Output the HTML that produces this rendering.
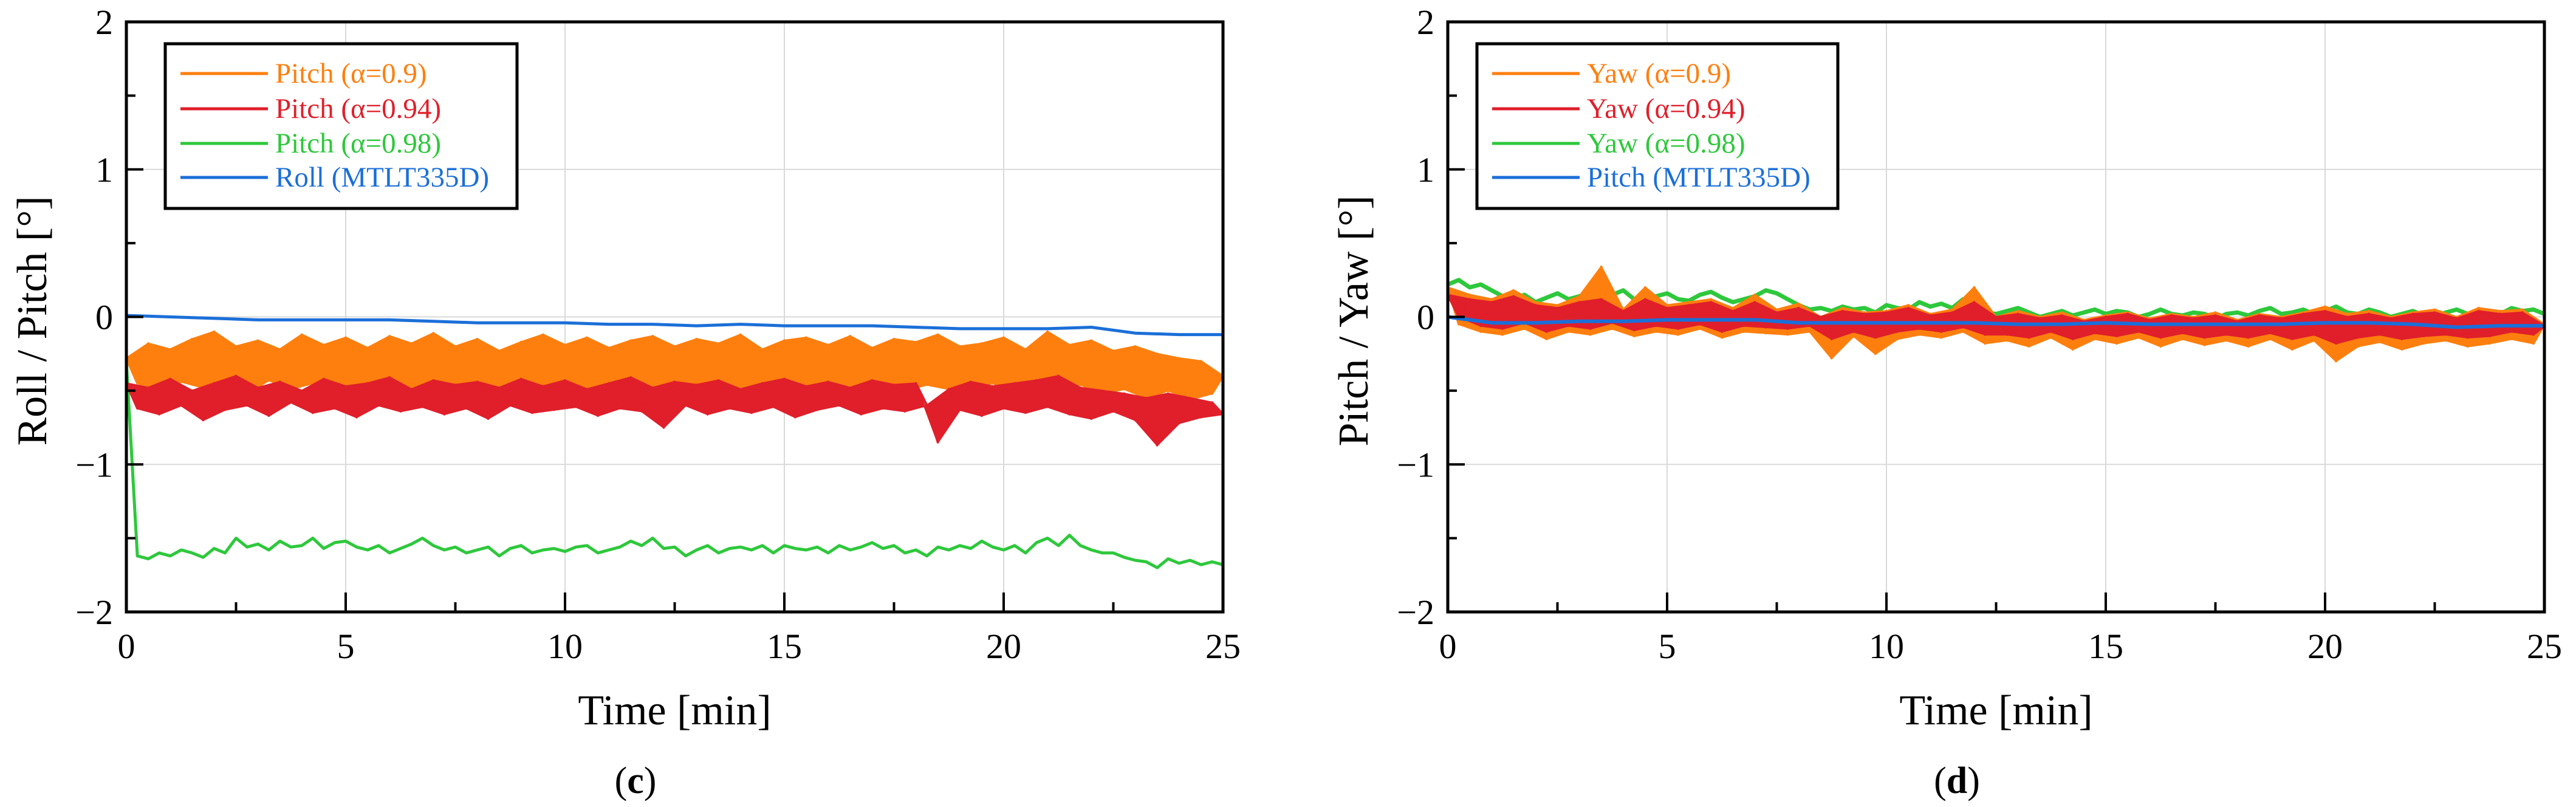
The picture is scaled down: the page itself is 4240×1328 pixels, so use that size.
<!DOCTYPE html>
<html><head><meta charset="utf-8"><style>
html,body{margin:0;padding:0;background:#fff;}
svg{display:block;font-family:"Liberation Serif",serif;}
</style></head><body>
<svg id="fig" width="4240" height="1328" viewBox="0 0 4240 1328" xmlns="http://www.w3.org/2000/svg"></svg>
<script>
const xTicks=[0,5,10,15,20,25];
const xMinor=[2.5,7.5,12.5,17.5,22.5];
const yTicks=[-2,-1,0,1,2];
const yMinor=[-1.5,-0.5,0.5,1.5];
const yTickLabels=["\u22122","\u22121","0","1","2"];
const legendC=["Pitch (\u03b1=0.9)","Pitch (\u03b1=0.94)","Pitch (\u03b1=0.98)","Roll (MTLT335D)"];
const legendD=["Yaw (\u03b1=0.9)","Yaw (\u03b1=0.94)","Yaw (\u03b1=0.98)","Pitch (MTLT335D)"];
const orangeC=[-0.28,-0.45,-0.18,-0.50,-0.22,-0.44,-0.15,-0.48,-0.10,-0.46,
-0.20,-0.52,-0.16,-0.43,-0.22,-0.49,-0.12,-0.45,-0.19,-0.50,
-0.14,-0.47,-0.21,-0.44,-0.13,-0.51,-0.18,-0.46,-0.11,-0.48,
-0.20,-0.45,-0.15,-0.50,-0.23,-0.47,-0.17,-0.44,-0.12,-0.49,
-0.19,-0.46,-0.14,-0.51,-0.21,-0.45,-0.16,-0.48,-0.13,-0.47,
-0.20,-0.44,-0.15,-0.50,-0.18,-0.46,-0.12,-0.49,-0.22,-0.45,
-0.16,-0.48,-0.14,-0.51,-0.19,-0.46,-0.13,-0.47,-0.21,-0.44,
-0.15,-0.50,-0.17,-0.46,-0.12,-0.49,-0.20,-0.48,-0.18,-0.45,
-0.14,-0.51,-0.22,-0.47,-0.10,-0.50,-0.19,-0.46,-0.16,-0.52,
-0.23,-0.49,-0.20,-0.55,-0.25,-0.50,-0.28,-0.56,-0.30,-0.52,-0.40];
const redC=[-0.45,-0.62,-0.48,-0.66,-0.42,-0.60,-0.50,-0.70,-0.45,-0.63,
-0.40,-0.60,-0.48,-0.67,-0.44,-0.58,-0.50,-0.65,-0.42,-0.62,
-0.47,-0.68,-0.45,-0.60,-0.41,-0.64,-0.49,-0.61,-0.43,-0.66,
-0.46,-0.62,-0.44,-0.69,-0.48,-0.60,-0.42,-0.65,-0.47,-0.63,
-0.43,-0.61,-0.49,-0.67,-0.45,-0.62,-0.41,-0.64,-0.48,-0.75,
-0.44,-0.60,-0.46,-0.66,-0.43,-0.62,-0.49,-0.65,-0.45,-0.61,
-0.42,-0.68,-0.47,-0.63,-0.44,-0.60,-0.48,-0.66,-0.43,-0.62,
-0.46,-0.64,-0.45,-0.60,-0.85,-0.49,-0.63,-0.44,-0.67,-0.47,
-0.62,-0.45,-0.65,-0.43,-0.61,-0.40,-0.66,-0.48,-0.69,-0.50,
-0.64,-0.52,-0.70,-0.55,-0.87,-0.52,-0.72,-0.55,-0.68,-0.58,-0.66];
const greenC=[-0.3,-1.62,-1.64,-1.6,-1.62,-1.58,-1.6,-1.63,-1.57,-1.6,
-1.5,-1.56,-1.54,-1.58,-1.52,-1.56,-1.55,-1.5,-1.57,-1.53,
-1.52,-1.56,-1.58,-1.55,-1.6,-1.57,-1.54,-1.5,-1.55,-1.58,
-1.56,-1.6,-1.58,-1.56,-1.62,-1.57,-1.55,-1.6,-1.58,-1.57,
-1.59,-1.56,-1.55,-1.6,-1.58,-1.56,-1.52,-1.55,-1.5,-1.57,
-1.56,-1.62,-1.58,-1.55,-1.6,-1.57,-1.56,-1.58,-1.55,-1.6,
-1.55,-1.57,-1.58,-1.56,-1.6,-1.55,-1.58,-1.56,-1.53,-1.57,
-1.55,-1.6,-1.58,-1.62,-1.56,-1.58,-1.55,-1.57,-1.52,-1.56,
-1.58,-1.55,-1.6,-1.53,-1.5,-1.55,-1.48,-1.55,-1.58,-1.6,
-1.6,-1.63,-1.65,-1.66,-1.7,-1.64,-1.67,-1.65,-1.68,-1.66,-1.68];
const blueC=[0.01,0,-0.01,-0.02,-0.02,-0.02,-0.02,-0.03,-0.04,-0.04,-0.04,-0.05,-0.05,-0.06,-0.05,-0.06,-0.06,-0.06,-0.07,-0.08,-0.08,-0.08,-0.07,-0.11,-0.12,-0.12];
const orangeD=[0.2,-0.05,0.15,-0.1,0.12,-0.12,0.18,-0.08,0.1,-0.15,
0.08,-0.1,0.14,-0.12,0.34,-0.08,0.05,-0.13,0.2,-0.1,
0.08,-0.12,0.1,-0.08,0.12,-0.14,0.06,-0.1,0.15,-0.11,
0.05,-0.12,0.09,-0.1,0.0,-0.28,0.06,-0.13,0.03,-0.25,
0.04,-0.15,0.08,-0.12,0.02,-0.14,0.05,-0.1,0.2,-0.18,
0.0,-0.16,0.04,-0.2,0.0,-0.14,0.03,-0.22,-0.02,-0.15,
0.01,-0.18,0.03,-0.14,-0.01,-0.2,0.02,-0.15,0.0,-0.19,
0.03,-0.16,-0.02,-0.2,0.02,-0.15,0.0,-0.22,0.03,-0.16,
0.07,-0.3,0.02,-0.2,0.04,-0.17,0.0,-0.22,0.03,-0.18,
0.05,-0.16,0.0,-0.2,0.06,-0.18,0.04,-0.15,0.05,-0.18,-0.05];
const redD=[0.15,0.0,0.12,-0.06,0.1,-0.08,0.14,-0.04,0.08,-0.1,
0.06,-0.06,0.1,-0.08,0.12,-0.04,0.04,-0.09,0.12,-0.06,
0.06,-0.08,0.08,-0.05,0.1,-0.1,0.04,-0.06,0.1,-0.07,
0.03,-0.08,0.06,-0.06,0.0,-0.15,0.04,-0.1,0.02,-0.14,
0.03,-0.1,0.06,-0.08,0.01,-0.1,0.03,-0.07,0.1,-0.12,
0.0,-0.12,0.02,-0.14,-0.01,-0.1,0.01,-0.15,-0.03,-0.11,
0.0,-0.13,0.02,-0.1,-0.02,-0.14,0.01,-0.11,-0.01,-0.14,
0.01,-0.12,-0.03,-0.14,0.01,-0.11,-0.01,-0.15,0.02,-0.12,
0.04,-0.18,0.0,-0.14,0.02,-0.12,-0.01,-0.15,0.02,-0.13,
0.03,-0.12,-0.01,-0.14,0.04,-0.13,0.02,-0.1,0.03,-0.12,-0.06];
const greenD=[0.22,0.25,0.2,0.22,0.18,0.14,0.12,0.15,0.1,0.13,
0.16,0.12,0.14,0.17,0.13,0.15,0.18,0.12,0.1,0.14,
0.16,0.12,0.11,0.15,0.17,0.13,0.1,0.12,0.14,0.18,
0.16,0.12,0.08,0.05,0.06,0.04,0.07,0.05,0.06,0.03,
0.08,0.06,0.05,0.1,0.07,0.09,0.06,0.12,0.05,0.03,
0.02,0.04,0.06,0.03,0.0,0.02,0.04,0.01,0.03,0.05,
0.02,0.04,0.03,0.0,0.02,0.05,0.02,0.01,0.03,0.02,
-0.01,0.02,0.03,0.01,0.04,0.06,0.02,0.03,0.05,0.02,
0.04,0.07,0.03,0.02,0.05,0.03,0.0,0.02,0.04,0.01,
0.0,0.03,0.05,0.02,0.0,0.04,0.02,0.06,0.04,0.05,0.02];
const blueD=[0.0,-0.04,-0.04,-0.03,-0.03,-0.02,-0.02,-0.02,-0.04,-0.04,-0.04,-0.04,-0.04,-0.05,-0.05,-0.04,-0.05,-0.05,-0.05,-0.05,-0.04,-0.04,-0.05,-0.07,-0.06,-0.06];

const COL={orange:"#ff7f0e",red:"#e01f2b",green:"#2ec83c",blue:"#1b6fd8"};
const NS="http://www.w3.org/2000/svg";
const svg=document.getElementById("fig");
function mk(tag,attrs,parent){const e=document.createElementNS(NS,tag);for(const k in attrs)e.setAttribute(k,attrs[k]);(parent||svg).appendChild(e);return e;}

function panel(cfg){
  const g=mk("g",{});
  
  
  const L=cfg.x0,R=cfg.x0+1805,T=36,B=1007;
  const sx=v=>L+(v-0)/25*(R-L);
  const sy=v=>B-(v+2)/4*(B-T);
  xTicks.forEach(t=>{const l=mk("line",{x1:sx(t),x2:sx(t),y1:T,y2:B,stroke:"#d9d9d9","stroke-width":2},g);
    });
  yTicks.forEach(t=>{const l=mk("line",{x1:L,x2:R,y1:sy(t),y2:sy(t),stroke:"#d9d9d9","stroke-width":2},g);
    });
  cfg.series.forEach(s=>{
    const n=s.data.length,dt=25/(n-1);
    const pts=s.data.map((v,i)=>[sx(i*dt),sy(v)]);
    if(s.band){
      const up=pts.filter((p,i)=>i%2===0), lo=pts.filter((p,i)=>i%2===1).reverse();
      const poly=up.concat(lo).map(p=>p[0].toFixed(1)+","+p[1].toFixed(1)).join(" ");
      const b=mk("polygon",{points:poly,fill:COL[s.c],stroke:COL[s.c],"stroke-width":3,"stroke-linejoin":"round"},g);
      
      
    }
    const d=pts.map((p,i)=>(i?"L":"M")+p[0].toFixed(1)+","+p[1].toFixed(1)).join("");
    const p=mk("path",{d:d,fill:"none",stroke:COL[s.c],"stroke-width":s.w||4,"stroke-linejoin":"round"},g);
    
    
  });
  xTicks.forEach(t=>{mk("line",{x1:sx(t),x2:sx(t),y1:B,y2:B-32,stroke:"#000","stroke-width":4},g);
    const tx=mk("text",{x:sx(t),y:1083,"font-size":58,"text-anchor":"middle"},g);tx.textContent=t;
    });
  xMinor.forEach(t=>mk("line",{x1:sx(t),x2:sx(t),y1:B,y2:B-16,stroke:"#000","stroke-width":4},g));
  yTicks.forEach((t,i)=>{mk("line",{x1:L,x2:L+28,y1:sy(t),y2:sy(t),stroke:"#000","stroke-width":4},g);
    const tx=mk("text",{x:L-22,y:sy(t)+20,"font-size":58,"text-anchor":"end"},g);tx.textContent=yTickLabels[i];
    });
  yMinor.forEach(t=>mk("line",{x1:L,x2:L+15,y1:sy(t),y2:sy(t),stroke:"#000","stroke-width":4},g));
  const fr=mk("rect",{x:L,y:T,width:R-L,height:B-T,fill:"none",stroke:"#000","stroke-width":5},g);
  
  const lg=mk("g",{},g);
  
  
  mk("rect",{x:cfg.lgX,y:72,width:cfg.lgW,height:271,fill:"#fff",stroke:"#000","stroke-width":5},lg);
  const lcols=["orange","red","green","blue"],ly=[121,179,236,292];
  cfg.legend.forEach((txt,i)=>{
    const e=mk("g",{},lg);
    
    
    mk("line",{x1:cfg.lgX+25,x2:cfg.lgX+169,y1:ly[i],y2:ly[i],stroke:COL[lcols[i]],"stroke-width":5},e);
    const t=mk("text",{x:cfg.lgX+181,y:ly[i]+15,"font-size":47,fill:COL[lcols[i]]},e);t.textContent=txt;
  });
  const xt=mk("text",{x:(L+R)/2,y:1192,"font-size":70,"text-anchor":"middle"},g);xt.textContent="Time [min]";
  
  const yt=mk("text",{x:0,y:0,"font-size":70,"text-anchor":"middle",transform:`translate(${cfg.ytX},528) rotate(-90)`},g);yt.textContent=cfg.ytitle;
  
  const cp=mk("text",{x:cfg.capX,y:1305,"font-size":62,"text-anchor":"middle"},g);
  cp.innerHTML='(<tspan font-weight="bold">'+cfg.cap+'</tspan>)';
  
}
panel({name:"panel-c",x0:208,lgX:272,lgW:579,ytX:76,capX:1046,cap:"c",ytitle:"Roll / Pitch [\u00b0]",legend:legendC,
 series:[{name:"pitch-alpha-0.98",c:"green",data:greenC,w:5},{name:"pitch-alpha-0.9",c:"orange",data:orangeC,band:true},{name:"pitch-alpha-0.94",c:"red",data:redC,band:true},{name:"roll-mtlt335d",c:"blue",data:blueC,w:5}]});
panel({name:"panel-d",x0:2383,lgX:2431,lgW:594,ytX:2251,capX:3221,cap:"d",ytitle:"Pitch / Yaw [\u00b0]",legend:legendD,
 series:[{name:"yaw-alpha-0.98",c:"green",data:greenD,w:7},{name:"yaw-alpha-0.9",c:"orange",data:orangeD,band:true},{name:"yaw-alpha-0.94",c:"red",data:redD,band:true},{name:"pitch-mtlt335d",c:"blue",data:blueD,w:6}]});
</script>
</body></html>
